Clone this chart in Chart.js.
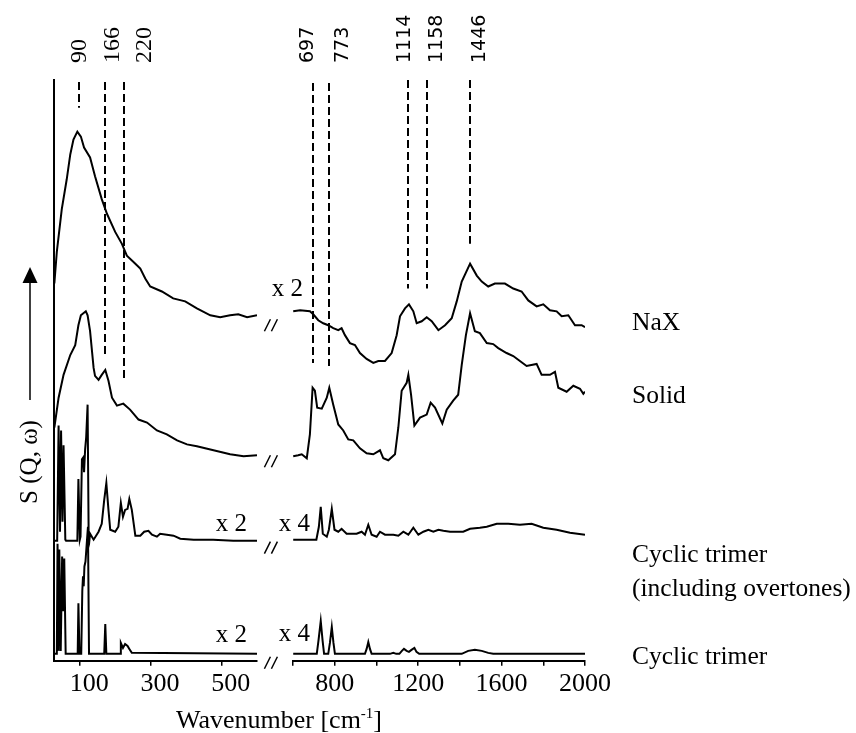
<!DOCTYPE html>
<html>
<head>
<meta charset="utf-8">
<script src="https://cdn.jsdelivr.net/npm/chart.js@4"></script>
<style>
  body { margin: 0; background: #fff; }
  #wrap { width: 856px; height: 733px; }
</style>
</head>
<body>
<div id="wrap"><canvas id="spectra"></canvas></div>
<script>
// wavenumbers (cm-1) and S(Q,w), y in the plot's offset units
const naxLowWn = [27, 34, 48, 62, 72, 81, 92, 102, 111, 128, 142, 161, 176, 199, 218, 232, 256, 270, 284, 298, 331, 363, 397, 430, 468, 496, 524, 547, 572, 600];
const naxLowS = [380, 412, 455, 485, 510, 525, 533, 528, 517, 507, 488, 465, 450, 432, 420, 408, 400, 395, 385, 377, 372, 365, 362, 355, 348, 346, 348, 349, 346, 348];
const naxHighWn = [601, 634, 681, 697, 721, 745, 769, 793, 817, 833, 849, 873, 897, 921, 953, 985, 1009, 1041, 1073, 1097, 1113, 1137, 1156, 1177, 1193, 1217, 1241, 1265, 1297, 1329, 1361, 1385, 1409, 1449, 1481, 1505, 1536, 1568, 1616, 1656, 1696, 1728, 1768, 1800, 1832, 1864, 1888, 1920, 1952, 1984, 2000];
const naxHighS = [352, 353, 352, 349, 343, 340, 338, 335, 333, 335, 328, 320, 318, 310, 304, 300, 302, 302, 310, 328, 347, 355, 359, 352, 340, 342, 346, 342, 333, 338, 345, 362, 382, 400, 388, 382, 377, 380, 380, 375, 372, 363, 357, 359, 353, 352, 347, 348, 338, 338, 336];

const solidLowWn = [27, 39, 53, 72, 86, 95, 102, 109, 116, 121, 128, 138, 142, 152, 161, 171, 180, 190, 204, 222, 241, 265, 289, 317, 345, 374, 402, 430, 477, 524, 562, 600];
const solidLowS = [235, 265, 288, 308, 318, 338, 348, 350, 352, 348, 332, 295, 287, 283, 288, 293, 282, 265, 257, 259, 253, 243, 240, 232, 228, 222, 218, 216, 212, 208, 206, 207];
const solidHighWn = [601, 625, 642, 666, 681, 694, 705, 716, 738, 762, 774, 793, 817, 841, 865, 889, 921, 953, 985, 1017, 1033, 1057, 1089, 1105, 1121, 1145, 1153, 1166, 1182, 1209, 1241, 1260, 1281, 1316, 1337, 1368, 1392, 1409, 1429, 1449, 1472, 1496, 1529, 1560, 1584, 1624, 1656, 1688, 1720, 1768, 1792, 1832, 1856, 1872, 1912, 1944, 1976, 1992, 2000];
const solidHighS = [206, 207, 208, 204, 228, 275, 272, 255, 254, 265, 275, 258, 238, 232, 223, 222, 214, 209, 208, 212, 204, 202, 208, 235, 272, 280, 288, 268, 237, 245, 248, 260, 255, 239, 253, 262, 268, 298, 328, 350, 332, 330, 320, 319, 315, 310, 307, 302, 297, 299, 288, 288, 291, 275, 271, 277, 274, 269, 271];

const overLowWn = [27, 35, 39, 43, 46, 50, 53, 58, 60, 92, 95, 99, 101, 105, 109, 111, 114, 117, 121, 124, 126, 128, 138, 152, 161, 168, 174, 180, 185, 199, 208, 215, 221, 227, 234, 239, 246, 256, 270, 281, 293, 303, 317, 326, 345, 364, 383, 421, 476, 533, 600];
const overLowS = [121, 121, 237, 130, 232, 140, 217, 122, 121, 121, 183, 122, 125, 203, 205, 190, 213, 225, 258, 125, 121, 128, 122, 130, 138, 162, 179, 152, 132, 130, 135, 159, 145, 152, 153, 163, 152, 126, 126, 130, 131, 127, 125, 128, 127, 126, 123, 122, 122, 121, 121];
const overHighWn = [601, 712, 724, 733, 743, 762, 772, 786, 799, 817, 833, 857, 905, 929, 945, 961, 977, 1001, 1017, 1041, 1081, 1105, 1129, 1153, 1177, 1201, 1225, 1249, 1273, 1297, 1321, 1353, 1416, 1449, 1496, 1529, 1577, 1632, 1688, 1744, 1800, 1864, 1928, 2000];
const overHighS = [122, 122, 135, 155, 128, 125, 132, 153, 132, 130, 133, 128, 128, 130, 127, 137, 127, 125, 130, 127, 127, 126, 130, 127, 134, 127, 130, 132, 130, 132, 131, 130, 130, 133, 134, 135, 138, 138, 137, 138, 134, 132, 129, 127];

const trimerLowWn = [27, 34, 36, 39, 41, 45, 49, 52, 55, 59, 93, 95, 98, 103, 106, 108, 110, 112, 115, 118, 122, 125, 168, 171, 174, 213, 215, 221, 227, 234, 239, 246, 600];
const trimerLowS = [7, 7, 118, 10, 112, 10, 105, 50, 103, 7, 7, 58, 7, 7, 70, 85, 75, 95, 100, 115, 135, 7, 7, 37, 7, 7, 18, 13, 17, 15, 12, 8, 7];
const trimerHighWn = [601, 714, 722, 733, 742, 749, 769, 777, 786, 794, 801, 945, 953, 961, 969, 977, 1065, 1081, 1095, 1110, 1122, 1132, 1145, 1156, 1168, 1182, 1192, 1205, 1409, 1440, 1472, 1505, 1536, 1560, 2000];
const trimerHighS = [7, 7, 20, 40, 20, 7, 7, 18, 34, 18, 7, 7, 12, 19, 12, 7, 7, 8, 7, 7, 10, 12, 10, 9, 11, 13, 9, 7, 7, 10, 11, 10, 8, 7, 7];

const seriesNames = ['NaX', 'Solid', ['Cyclic trimer', '(including overtones)'], 'Cyclic trimer'];
const peakLabels = ['90', '166', '220', '697', '773', '1114', '1158', '1446'];
const peakLineWn = [97, 170, 224, 696, 773, 1151, 1242, 1449];
const lowTicks = [100, 200, 300, 400, 500];
const lowLabels = [100, 300, 500];
const highTicks = [600, 800, 1000, 1200, 1400, 1600, 1800, 2000];
const highLabels = [800, 1200, 1600, 2000];

const serif = '"Liberation Serif", "Times New Roman", serif';
const sans = '"DejaVu Sans", Verdana, sans-serif';

function pts(wn, s) {
  return wn.map((w, i) => ({ x: w, y: s[i] }));
}

const traces = [
  [naxLowWn, naxLowS, naxHighWn, naxHighS],
  [solidLowWn, solidLowS, solidHighWn, solidHighS],
  [overLowWn, overLowS, overHighWn, overHighS],
  [trimerLowWn, trimerLowS, trimerHighWn, trimerHighS]
];
const datasets = [];
traces.forEach(t => {
  datasets.push({ data: pts(t[0], t[1]), xAxisID: 'xl', yAxisID: 'y' });
  datasets.push({ data: pts(t[2], t[3]), xAxisID: 'xr', yAxisID: 'y' });
});

// annotation layout (axis ids, wavenumbers, S units)
const peakAxis = ['xl', 'xl', 'xl', 'xr', 'xr', 'xr', 'xr', 'xr'];
const peakLabelWn = [99, 193, 283, 672, 840, 1137, 1290, 1496];
const peakLineTop = [583, 583, 583, 582, 582, 585, 585, 585];
const peakLineBottom = [557, 308, 283, 300, 297, 375, 375, 420];
const nameY = [340, 266, 106, 4];
const factorMarks = [
  { text: 'x 2', axis: 'xr', wn: 648, s: 374 },
  { text: 'x 2', axis: 'xl', wn: 572, s: 137 },
  { text: 'x 4', axis: 'xr', wn: 681, s: 137 },
  { text: 'x 2', axis: 'xl', wn: 572, s: 26 },
  { text: 'x 4', axis: 'xr', wn: 681, s: 27 }
];
const breakY = [338, 201, 114, -2];

const decorations = {
  id: 'decorations',
  afterDraw(chart) {
    const ctx = chart.ctx;
    const { xl, xg, xr, y } = chart.scales;
    const px = (axis, v) => (axis === 'xl' ? xl : xr).getPixelForValue(v);
    ctx.save();
    ctx.fillStyle = '#000';
    ctx.strokeStyle = '#000';

    // dashed peak markers
    ctx.lineWidth = 2;
    ctx.setLineDash([8, 4]);
    peakLineWn.forEach((wn, i) => {
      const x = Math.round(px(peakAxis[i], wn));
      ctx.beginPath();
      ctx.moveTo(x, y.getPixelForValue(peakLineTop[i]));
      ctx.lineTo(x, y.getPixelForValue(peakLineBottom[i]));
      ctx.stroke();
    });
    ctx.setLineDash([]);

    // rotated peak labels
    peakLabels.forEach((lab, i) => {
      ctx.save();
      ctx.translate(px(peakAxis[i], peakLabelWn[i]), 63);
      ctx.rotate(-Math.PI / 2);
      ctx.font = peakAxis[i] === 'xl' ? '24px ' + serif : '19px ' + sans;
      ctx.textAlign = 'left';
      ctx.textBaseline = 'middle';
      ctx.fillText(lab, 0, 0);
      ctx.restore();
    });

    // scale factors
    ctx.font = '25px ' + serif;
    ctx.textAlign = 'right';
    ctx.textBaseline = 'middle';
    factorMarks.forEach(f => ctx.fillText(f.text, px(f.axis, f.wn), y.getPixelForValue(f.s)));

    // axis break marks
    ctx.lineWidth = 1.5;
    const bx = xg.getPixelForValue(0.4);
    breakY.forEach(s => {
      const cy = y.getPixelForValue(s);
      [-4, 3].forEach(dx => {
        ctx.beginPath();
        ctx.moveTo(bx + dx - 3, cy + 6);
        ctx.lineTo(bx + dx + 3, cy - 6);
        ctx.stroke();
      });
    });

    // series names
    ctx.font = '25.5px ' + serif;
    ctx.textAlign = 'left';
    seriesNames.forEach((name, i) => {
      const lines = Array.isArray(name) ? name : [name];
      lines.forEach((ln, j) => ctx.fillText(ln, 632, y.getPixelForValue(nameY[i]) + j * 34));
    });

    // y title with arrow
    ctx.save();
    ctx.translate(30, 462);
    ctx.rotate(-Math.PI / 2);
    ctx.font = '25px ' + serif;
    ctx.textAlign = 'center';
    ctx.fillText('S (Q, \u03c9)', 0, 0);
    ctx.restore();
    ctx.lineWidth = 1.5;
    ctx.beginPath();
    ctx.moveTo(30, 400);
    ctx.lineTo(30, 280);
    ctx.stroke();
    ctx.beginPath();
    ctx.moveTo(30, 267);
    ctx.lineTo(22.5, 283);
    ctx.lineTo(37.5, 283);
    ctx.closePath();
    ctx.fill();

    // x title with superscript
    const cx = (xg.left + xg.right) / 2 + 4;
    const a = 'Wavenumber [cm', b = '-1', c = ']';
    ctx.font = '26px ' + serif;
    const wa = ctx.measureText(a).width, wc = ctx.measureText(c).width;
    ctx.font = '15px ' + serif;
    const wb = ctx.measureText(b).width;
    let x0 = cx - (wa + wb + wc) / 2;
    ctx.textAlign = 'left';
    ctx.textBaseline = 'alphabetic';
    ctx.font = '26px ' + serif;
    ctx.fillText(a, x0, 728);
    ctx.font = '15px ' + serif;
    ctx.fillText(b, x0 + wa, 718);
    ctx.font = '26px ' + serif;
    ctx.fillText(c, x0 + wa + wb, 728);
    ctx.restore();
  }
};

function tickSetter(values) {
  return scale => { scale.ticks = values.map(v => ({ value: v })); };
}

const xCommon = {
  type: 'linear',
  position: 'bottom',
  stack: 'x',
  grid: { drawOnChartArea: false, color: '#000', tickLength: 5, lineWidth: 1.5 },
  border: { color: '#000', width: 2 }
};

new Chart(document.getElementById('spectra'), {
  type: 'line',
  data: { datasets: datasets },
  options: {
    responsive: true,
    maintainAspectRatio: false,
    animation: false,
    layout: { padding: { left: 54, right: 271, top: 80, bottom: 30 } },
    plugins: { legend: { display: false }, tooltip: { enabled: false } },
    elements: {
      point: { radius: 0 },
      line: { borderColor: '#000', borderWidth: 2, tension: 0, fill: false }
    },
    scales: {
      y: {
        type: 'linear', position: 'left', min: 0, max: 585,
        ticks: { display: false },
        grid: { display: false, drawTicks: false },
        border: { color: '#000', width: 2 }
      },
      xl: Object.assign({}, xCommon, {
        stackWeight: 203, min: 26, max: 600,
        afterBuildTicks: tickSetter(lowTicks),
        ticks: {
          color: '#000', padding: 3, labelOffset: 9, maxRotation: 0,
          font: { family: serif, size: 26 },
          callback: v => lowLabels.includes(v) ? String(v) : ''
        }
      }),
      xg: {
        type: 'linear', position: 'bottom', stack: 'x', stackWeight: 36, min: 0, max: 1,
        ticks: { display: false },
        grid: { display: false, drawTicks: false },
        border: { display: false }
      },
      xr: Object.assign({}, xCommon, {
        stackWeight: 292, min: 600, max: 2000,
        afterBuildTicks: tickSetter(highTicks),
        ticks: {
          color: '#000', padding: 3, maxRotation: 0, autoSkip: false,
          font: { family: serif, size: 26 },
          callback: v => highLabels.includes(v) ? String(v) : ''
        }
      })
    }
  },
  plugins: [decorations]
});
</script>
</body>
</html>
